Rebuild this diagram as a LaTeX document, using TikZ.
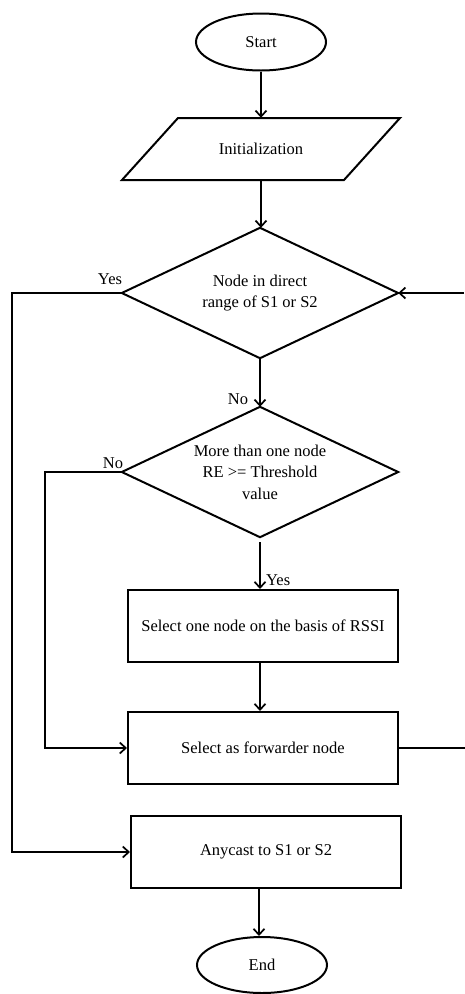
\documentclass[tikz,border=0pt]{standalone}
\usepackage{fontspec}
\setmainfont{Liberation Serif}
\usetikzlibrary{shapes.geometric,arrows.meta,calc}
\begin{document}
\begin{tikzpicture}[x=1pt,y=1pt,
  every node/.style={font=\fontsize{16.5}{21.5}\selectfont},
  ln/.style={line width=2pt, line join=miter},
  arr/.style={ln, -{Straight Barb[length=6pt,width=11pt,line width=1.7pt]}},
  term/.style={ellipse, draw, line width=2pt, minimum width=130pt, minimum height=57pt, inner sep=0pt},
  dec/.style={rectangle, minimum width=276pt, minimum height=130pt, inner sep=0pt, align=center},
  proc/.style={rectangle, draw, line width=2pt, minimum width=270pt, minimum height=72pt, inner sep=0pt},
  lbl/.style={inner sep=0pt}
]
\useasboundingbox (0,0) rectangle (464,-994);
\fill[white] (0,0) rectangle (464,-994);

\node[term] (start) at (261,-42) {Start};
\node[minimum width=222pt, minimum height=62pt, inner sep=0pt] (init) at (261,-149) {Initialization};
\draw[ln] ($(init.center)+(-83,31)$) -- ++(222,0) -- ++(-56,-62) -- ++(-222,0) -- cycle;
\node[dec] (d1) at (260,-293) {Node in direct\\range of S1 or S2};
\draw[ln] (d1.north) -- (d1.east) -- (d1.south) -- (d1.west) -- cycle;
\node[dec] (d2) at (260,-472) {More than one node\\RE >= Threshold\\value};
\draw[ln] (d2.north) -- (d2.east) -- (d2.south) -- (d2.west) -- cycle;
\node[proc] (b1) at (263,-626) {Select one node on the basis of RSSI};
\node[proc] (b2) at (263,-748) {Select as forwarder node};
\node[proc] (b3) at (266,-852) {Anycast to S1 or S2};
\node[term, minimum height=56pt] (end) at (262,-965) {End};

\coordinate (yl) at (12,-293);
\coordinate (nl) at (45,-472);
\coordinate (r1) at (474,-748);
\coordinate (r2) at (474,-293);
\coordinate (r3) at (464,-293);

\draw[arr] (start.south) -- (start.south |- init.north);
\draw[arr] (init.south) -- (init.south |- d1.north);
\draw[arr] (d1.south) -- (d1.south |- d2.north);
\draw[arr] ([yshift=-5pt]d2.south) -- (d2.south |- b1.north);
\draw[arr] (b1.south -| d2.south) -- (d2.south |- b2.north);
\draw[arr] (b3.south -| 259,0) -- (259,0 |- end.north);

\draw[arr] (d1.west) -- (yl) |- (b3.west);
\draw[arr] (d2.west) -- (nl) |- (b2.west);
\draw[ln] (b2.east) -- (r1) -- (r2);
\draw[arr] (r3) -- (d1.east);

\node[lbl, anchor=base] (ly1) at (110,-284) {Yes};
\node[lbl, anchor=base] (ln1) at (238,-404) {No};
\node[lbl, anchor=base] (ln2) at (113,-468) {No};
\node[lbl, anchor=base west] (ly2) at (266,-585) {Yes};
\end{tikzpicture}
\end{document}
